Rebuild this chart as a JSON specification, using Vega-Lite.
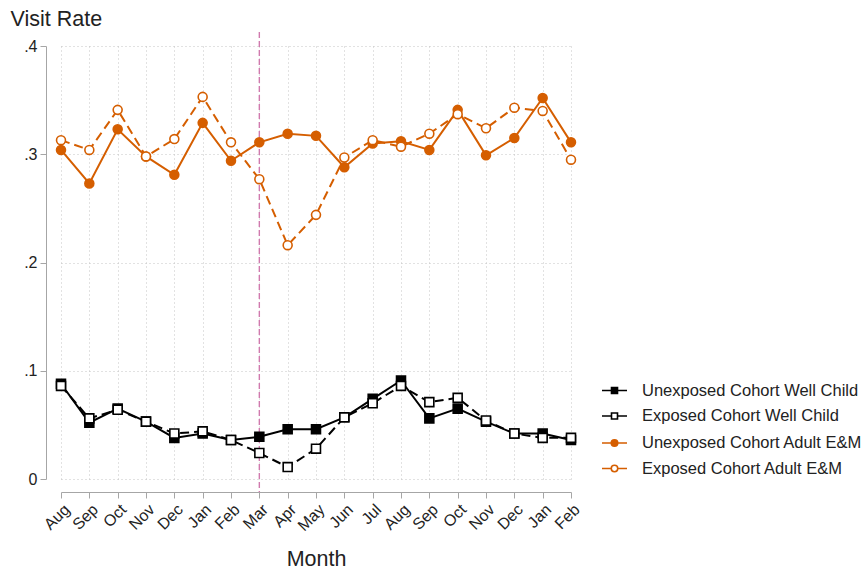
{
  "$schema": "https://vega.github.io/schema/vega-lite/v6.json",
  "width": 510,
  "height": 433,
  "autosize": "none",
  "padding": {"left": 61, "top": 46, "right": 297, "bottom": 93},
  "background": "white",
  "config": {
    "font": "Liberation Sans",
    "view": {"stroke": null},
    "axis": {
      "domainColor": "#a6a6a6",
      "tickColor": "#a6a6a6",
      "tickSize": 6,
      "labelColor": "#222222",
      "labelFontSize": 16,
      "titleColor": "#222222",
      "titleFontSize": 21.5,
      "titleFontWeight": "normal",
      "grid": true,
      "gridColor": "#c4c4c4",
      "gridDash": [1, 3],
      "gridWidth": 1
    },
    "legend": {
      "title": null,
      "orient": "none",
      "legendX": 540,
      "labelFontSize": 16.5,
      "labelColor": "#222222",
      "labelOffset": 14,
      "labelLimit": 0,
      "symbolSize": 625,
      "symbolStrokeWidth": 1.6,
      "rowPadding": 3.5
    }
  },
  "data": {
    "values": [
      {"month": "Aug 2019", "Unexposed Cohort Well Child": 0.088, "Exposed Cohort Well Child": 0.086, "Unexposed Cohort Adult E&M": 0.304, "Exposed Cohort Adult E&M": 0.313},
      {"month": "Sep 2019", "Unexposed Cohort Well Child": 0.052, "Exposed Cohort Well Child": 0.056, "Unexposed Cohort Adult E&M": 0.273, "Exposed Cohort Adult E&M": 0.304},
      {"month": "Oct 2019", "Unexposed Cohort Well Child": 0.065, "Exposed Cohort Well Child": 0.064, "Unexposed Cohort Adult E&M": 0.323, "Exposed Cohort Adult E&M": 0.341},
      {"month": "Nov 2019", "Unexposed Cohort Well Child": 0.053, "Exposed Cohort Well Child": 0.053, "Unexposed Cohort Adult E&M": 0.298, "Exposed Cohort Adult E&M": 0.298},
      {"month": "Dec 2019", "Unexposed Cohort Well Child": 0.038, "Exposed Cohort Well Child": 0.042, "Unexposed Cohort Adult E&M": 0.281, "Exposed Cohort Adult E&M": 0.314},
      {"month": "Jan 2020", "Unexposed Cohort Well Child": 0.042, "Exposed Cohort Well Child": 0.044, "Unexposed Cohort Adult E&M": 0.329, "Exposed Cohort Adult E&M": 0.353},
      {"month": "Feb 2020", "Unexposed Cohort Well Child": 0.036, "Exposed Cohort Well Child": 0.036, "Unexposed Cohort Adult E&M": 0.294, "Exposed Cohort Adult E&M": 0.311},
      {"month": "Mar 2020", "Unexposed Cohort Well Child": 0.039, "Exposed Cohort Well Child": 0.024, "Unexposed Cohort Adult E&M": 0.311, "Exposed Cohort Adult E&M": 0.277},
      {"month": "Apr 2020", "Unexposed Cohort Well Child": 0.046, "Exposed Cohort Well Child": 0.011, "Unexposed Cohort Adult E&M": 0.319, "Exposed Cohort Adult E&M": 0.216},
      {"month": "May 2020", "Unexposed Cohort Well Child": 0.046, "Exposed Cohort Well Child": 0.028, "Unexposed Cohort Adult E&M": 0.317, "Exposed Cohort Adult E&M": 0.244},
      {"month": "Jun 2020", "Unexposed Cohort Well Child": 0.057, "Exposed Cohort Well Child": 0.057, "Unexposed Cohort Adult E&M": 0.288, "Exposed Cohort Adult E&M": 0.297},
      {"month": "Jul 2020", "Unexposed Cohort Well Child": 0.074, "Exposed Cohort Well Child": 0.070, "Unexposed Cohort Adult E&M": 0.310, "Exposed Cohort Adult E&M": 0.313},
      {"month": "Aug 2020", "Unexposed Cohort Well Child": 0.091, "Exposed Cohort Well Child": 0.086, "Unexposed Cohort Adult E&M": 0.312, "Exposed Cohort Adult E&M": 0.307},
      {"month": "Sep 2020", "Unexposed Cohort Well Child": 0.056, "Exposed Cohort Well Child": 0.071, "Unexposed Cohort Adult E&M": 0.304, "Exposed Cohort Adult E&M": 0.319},
      {"month": "Oct 2020", "Unexposed Cohort Well Child": 0.065, "Exposed Cohort Well Child": 0.075, "Unexposed Cohort Adult E&M": 0.341, "Exposed Cohort Adult E&M": 0.337},
      {"month": "Nov 2020", "Unexposed Cohort Well Child": 0.053, "Exposed Cohort Well Child": 0.054, "Unexposed Cohort Adult E&M": 0.299, "Exposed Cohort Adult E&M": 0.324},
      {"month": "Dec 2020", "Unexposed Cohort Well Child": 0.042, "Exposed Cohort Well Child": 0.042, "Unexposed Cohort Adult E&M": 0.315, "Exposed Cohort Adult E&M": 0.343},
      {"month": "Jan 2021", "Unexposed Cohort Well Child": 0.042, "Exposed Cohort Well Child": 0.038, "Unexposed Cohort Adult E&M": 0.352, "Exposed Cohort Adult E&M": 0.340},
      {"month": "Feb 2021", "Unexposed Cohort Well Child": 0.036, "Exposed Cohort Well Child": 0.038, "Unexposed Cohort Adult E&M": 0.311, "Exposed Cohort Adult E&M": 0.295}
    ]
  },
  "encoding": {
    "x": {
      "field": "month",
      "type": "ordinal",
      "scale": {
        "type": "point",
        "padding": 0,
        "domain": ["Aug 2019", "Sep 2019", "Oct 2019", "Nov 2019", "Dec 2019", "Jan 2020", "Feb 2020", "Mar 2020", "Apr 2020", "May 2020", "Jun 2020", "Jul 2020", "Aug 2020", "Sep 2020", "Oct 2020", "Nov 2020", "Dec 2020", "Jan 2021", "Feb 2021"]
      },
      "axis": {
        "title": "Month",
        "labelExpr": "slice(datum.label, 0, 3)",
        "labelAngle": -45,
        "labelPadding": 3,
        "titlePadding": 15,
        "offset": 13
      }
    }
  },
  "layer": [
    {
      "transform": [{"filter": "datum.month === 'Mar 2020'"}],
      "mark": {"type": "rule", "color": "#d07aae", "strokeDash": [6, 3], "strokeWidth": 1.4, "clip": false},
      "encoding": {
        "y": {"datum": 0.413, "type": "quantitative"},
        "y2": {"datum": -0.012}
      }
    },
    {
      "transform": [{"fold": ["Unexposed Cohort Well Child", "Exposed Cohort Well Child", "Unexposed Cohort Adult E&M", "Exposed Cohort Adult E&M"], "as": ["series", "rate"]}],
      "encoding": {
        "y": {
          "field": "rate",
          "type": "quantitative",
          "scale": {"domain": [0, 0.4], "nice": false},
          "axis": {
            "title": "Visit Rate",
            "titleAngle": 0,
            "titleAlign": "left",
            "titleBaseline": "alphabetic",
            "titleX": -36,
            "titleY": -21,
            "values": [0, 0.1, 0.2, 0.3, 0.4],
            "labelExpr": "datum.value == 0 ? '0' : replace(format(datum.value, '.1f'), '0.', '.')",
            "labelPadding": 3,
            "offset": 15
          }
        }
      },
      "layer": [
        {
          "transform": [{"filter": "indexof(datum.series, 'Well') >= 0"}],
          "encoding": {
            "stroke": {
              "field": "series",
              "type": "nominal",
              "scale": {"domain": ["Unexposed Cohort Well Child", "Exposed Cohort Well Child"], "range": ["#000000", "#000000"]},
              "legend": {"legendY": 331, "symbolType": "M-1,0H-0.24M0.24,0H1M-0.24,-0.24H0.24V0.24H-0.24Z"}
            }
          },
          "layer": [
            {
              "transform": [{"filter": "datum.series === 'Unexposed Cohort Well Child'"}],
              "mark": {"type": "line", "strokeWidth": 2}
            },
            {
              "transform": [{"filter": "datum.series === 'Exposed Cohort Well Child'"}],
              "mark": {"type": "line", "strokeWidth": 2, "strokeDash": [9, 5]}
            },
            {
              "mark": {"type": "point", "shape": "square", "size": 80, "strokeWidth": 1.6, "opacity": 1},
              "encoding": {
                "fill": {
                  "field": "series",
                  "type": "nominal",
                  "scale": {"domain": ["Unexposed Cohort Well Child", "Exposed Cohort Well Child"], "range": ["#000000", "#ffffff"]},
                  "legend": {"legendY": 331, "symbolType": "M-1,0H-0.24M0.24,0H1M-0.24,-0.24H0.24V0.24H-0.24Z"}
                }
              }
            }
          ]
        },
        {
          "transform": [{"filter": "indexof(datum.series, 'Adult') >= 0"}],
          "encoding": {
            "stroke": {
              "field": "series",
              "type": "nominal",
              "scale": {"domain": ["Unexposed Cohort Adult E&M", "Exposed Cohort Adult E&M"], "range": ["#d55e00", "#d55e00"]},
              "legend": {"legendY": 383.5, "symbolType": "M-1,0H-0.26M0.26,0H1M0.26,0A0.26,0.26 0 1,1 -0.26,0A0.26,0.26 0 1,1 0.26,0Z"}
            }
          },
          "layer": [
            {
              "transform": [{"filter": "datum.series === 'Unexposed Cohort Adult E&M'"}],
              "mark": {"type": "line", "strokeWidth": 2}
            },
            {
              "transform": [{"filter": "datum.series === 'Exposed Cohort Adult E&M'"}],
              "mark": {"type": "line", "strokeWidth": 2, "strokeDash": [9, 5]}
            },
            {
              "mark": {"type": "point", "shape": "circle", "size": 80, "strokeWidth": 1.6, "opacity": 1},
              "encoding": {
                "fill": {
                  "field": "series",
                  "type": "nominal",
                  "scale": {"domain": ["Unexposed Cohort Adult E&M", "Exposed Cohort Adult E&M"], "range": ["#d55e00", "#ffffff"]},
                  "legend": {"legendY": 383.5, "symbolType": "M-1,0H-0.26M0.26,0H1M0.26,0A0.26,0.26 0 1,1 -0.26,0A0.26,0.26 0 1,1 0.26,0Z"}
                }
              }
            }
          ]
        }
      ],
      "resolve": {"scale": {"stroke": "independent", "fill": "independent"}}
    }
  ]
}
